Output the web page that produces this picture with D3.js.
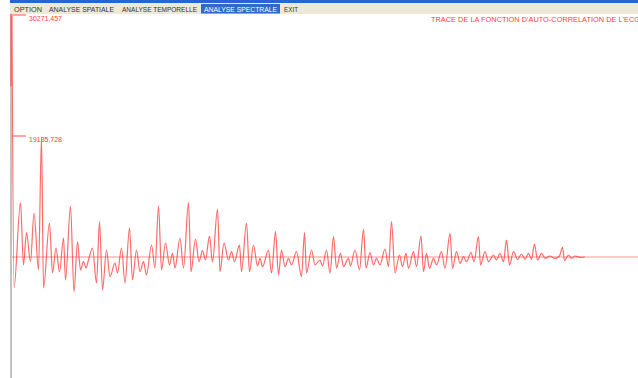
<!DOCTYPE html>
<html>
<head>
<meta charset="utf-8">
<script src="https://cdn.jsdelivr.net/npm/d3@7"></script>
<style>
  html, body { margin: 0; padding: 0; background: #ffffff; }
  svg { display: block; }
</style>
</head>
<body>
<svg id="chart" width="638" height="378"></svg>
<script>
// Menu entries of the application window
const menuItems = ["OPTION", "ANALYSE SPATIALE", "ANALYSE TEMPORELLE", "ANALYSE SPECTRALE", "EXIT"];
const activeMenu = "ANALYSE SPECTRALE";

const title = "TRACE DE LA FONCTION D'AUTO-CORRELATION DE L'ECG";

// Marked values on the vertical axis
const tickValues = [30271.457, 19135.728];
const tickLabels = ["30271,457", "19135,728"];

// Reference level the autocorrelation oscillates around
const baseLevel = 8093;
const maxLag = 1252;

// Autocorrelation of the ECG: lag (samples) and value at the turning points
const lags = [
  0, 4, 17, 23, 29, 37, 44, 53, 59, 63, 75, 81, 88, 95, 103, 107, 117, 124, 131, 137,
  143, 148, 153, 161, 169, 175, 181, 189, 196, 206, 211, 219, 226, 235, 241, 249, 256, 263, 269, 279,
  286, 293, 299, 307, 315, 321, 326, 336, 343, 353, 358, 367, 374, 381, 387, 395, 401, 411, 416, 424,
  433, 439, 445, 455, 459, 469, 475, 483, 491, 496, 501, 513, 519, 527, 533, 539, 546, 553, 559, 569,
  579, 585, 589, 599, 606, 616, 621, 629, 636, 643, 649, 657, 663, 673, 677, 686, 695, 703, 708, 716,
  723, 729, 736, 746, 753, 759, 766, 775, 781, 788, 793, 803, 809, 818, 823, 829, 835, 843, 849, 859,
  866, 876, 881, 889, 896, 903, 909, 918, 924, 933, 937, 946, 953, 963, 969, 976, 983, 989, 995, 1003,
  1011, 1019, 1026, 1033, 1039, 1045, 1051, 1059, 1066, 1076, 1086, 1095, 1101, 1105, 1113, 1119, 1126, 1136, 1146
];
const values = [
  30271.457, 5240, 13090, 7356, 10329, 7660, 12142, 6896, 19135.728, 5240, 11221, 6620, 8921, 6712, 9841, 5976, 12786, 4900, 9500, 6896,
  7660, 7080, 7816, 8921, 5700, 11341, 5056, 8737, 6280, 7540, 6620, 8921, 5700, 10761, 5976, 8737, 6740, 7660, 6436, 9197,
  7080, 12786, 6896, 9381, 7356, 8461, 7080, 9841, 7080, 13090, 6740, 9749, 7660, 8670, 7816, 10025, 7632, 12510, 6740, 9381,
  7816, 8581, 7660, 9197, 6740, 11221, 6740, 9197, 7264, 7970, 7200, 8737, 6620, 10421, 6436, 8737, 7200, 7970, 7356, 8581,
  6280, 10329, 6620, 8737, 7356, 7816, 7264, 8737, 6620, 9960, 7080, 8430, 7200, 7970, 7264, 8737, 6896, 10642, 7080, 8490,
  7356, 7970, 7356, 8829, 7200, 11341, 6620, 8277, 7200, 8430, 7050, 8581, 7200, 10025, 6740, 8430, 7050, 7970, 7356, 8581,
  7050, 10273, 7050, 8581, 7510, 8120, 7660, 8490, 7660, 9960, 7356, 8581, 7660, 8277, 7816, 8430, 7660, 9657, 7356, 8581,
  7880, 8369, 7880, 8430, 7880, 9289, 7816, 8430, 7970, 8185, 7970, 8185, 8985, 7752, 8277, 7970, 8185, 8065, 8093
];

const W = 638, H = 378;
const svg = d3.select("#chart");

const x = d3.scaleLinear().domain([0, maxLag]).range([12, 638]);
const y = d3.scaleLinear().domain([tickValues[1], tickValues[0]]).range([137, 16]);

const series = lags.map((l, i) => ({ lag: l, v: values[i] }));

// Plot area background
svg.append("rect").attr("x", 0).attr("y", 0).attr("width", W).attr("height", H).attr("fill", "#ffffff");

// Reference level across the plot
svg.append("line")
  .attr("x1", x(0)).attr("x2", W)
  .attr("y1", y(baseLevel)).attr("y2", y(baseLevel))
  .attr("stroke", "#ffb4b4").attr("stroke-width", 1.6);

// Autocorrelation trace
const line = d3.line()
  .x(d => x(d.lag))
  .y(d => y(d.v))
  .curve(d3.curveMonotoneX);

svg.append("path")
  .datum(series)
  .attr("d", line)
  .attr("fill", "none")
  .attr("stroke", "#ff3a3a")
  .attr("stroke-width", 1.2)
  .attr("stroke-opacity", 0.75)
  .attr("stroke-linejoin", "round");

// Left window edge / axis line
svg.append("line")
  .attr("x1", 11).attr("x2", 11)
  .attr("y1", 86).attr("y2", H)
  .attr("stroke", "#a8a8a8").attr("stroke-width", 1.4);
svg.append("line")
  .attr("x1", 11).attr("x2", 11)
  .attr("y1", 14).attr("y2", 86)
  .attr("stroke", "#d85050").attr("stroke-width", 1.4);

// Value marks and labels
const ticks = svg.append("g");
tickValues.forEach((v, i) => {
  ticks.append("line")
    .attr("x1", 12).attr("x2", 26)
    .attr("y1", y(v) - 1).attr("y2", y(v) - 1)
    .attr("stroke", "#ff5050").attr("stroke-width", 1);
  ticks.append("text")
    .attr("x", 29).attr("y", y(v) + 5)
    .attr("font-family", "Liberation Sans, Arial, sans-serif")
    .attr("font-size", 7.5)
    .attr("fill", "#ff3c3c")
    .attr("textLength", 33)
    .attr("lengthAdjust", "spacingAndGlyphs")
    .text(tickLabels[i]);
});

// Chart title, top right
svg.append("text")
  .attr("x", 431).attr("y", 22)
  .attr("font-family", "Liberation Sans, Arial, sans-serif")
  .attr("font-size", 7.2)
  .attr("fill", "#ff3c3c")
  .attr("textLength", 209)
  .attr("lengthAdjust", "spacingAndGlyphs")
  .text(title);

// Window title strip and menu bar
svg.append("rect").attr("x", 10).attr("y", 0).attr("width", W - 10).attr("height", 3).attr("fill", "#2a63d6");
svg.append("rect").attr("x", 10).attr("y", 3).attr("width", W - 10).attr("height", 11).attr("fill", "#ece9d8");

const menuX = [14, 49, 122, 204, 284];
const menuW = [28, 65, 75, 73, 14];
const menu = svg.append("g");
menuItems.forEach((m, i) => {
  if (m === activeMenu) {
    menu.append("rect")
      .attr("x", menuX[i] - 3).attr("y", 4)
      .attr("width", menuW[i] + 6).attr("height", 9.5)
      .attr("fill", "#316ac5");
  }
  menu.append("text")
    .attr("x", menuX[i]).attr("y", 11.5)
    .attr("font-family", "Liberation Sans, Arial, sans-serif")
    .attr("font-size", 7)
    .attr("fill", m === activeMenu ? "#ffffff" : "#333333")
    .attr("textLength", menuW[i])
    .attr("lengthAdjust", "spacingAndGlyphs")
    .text(m);
});
</script>
</body>
</html>
